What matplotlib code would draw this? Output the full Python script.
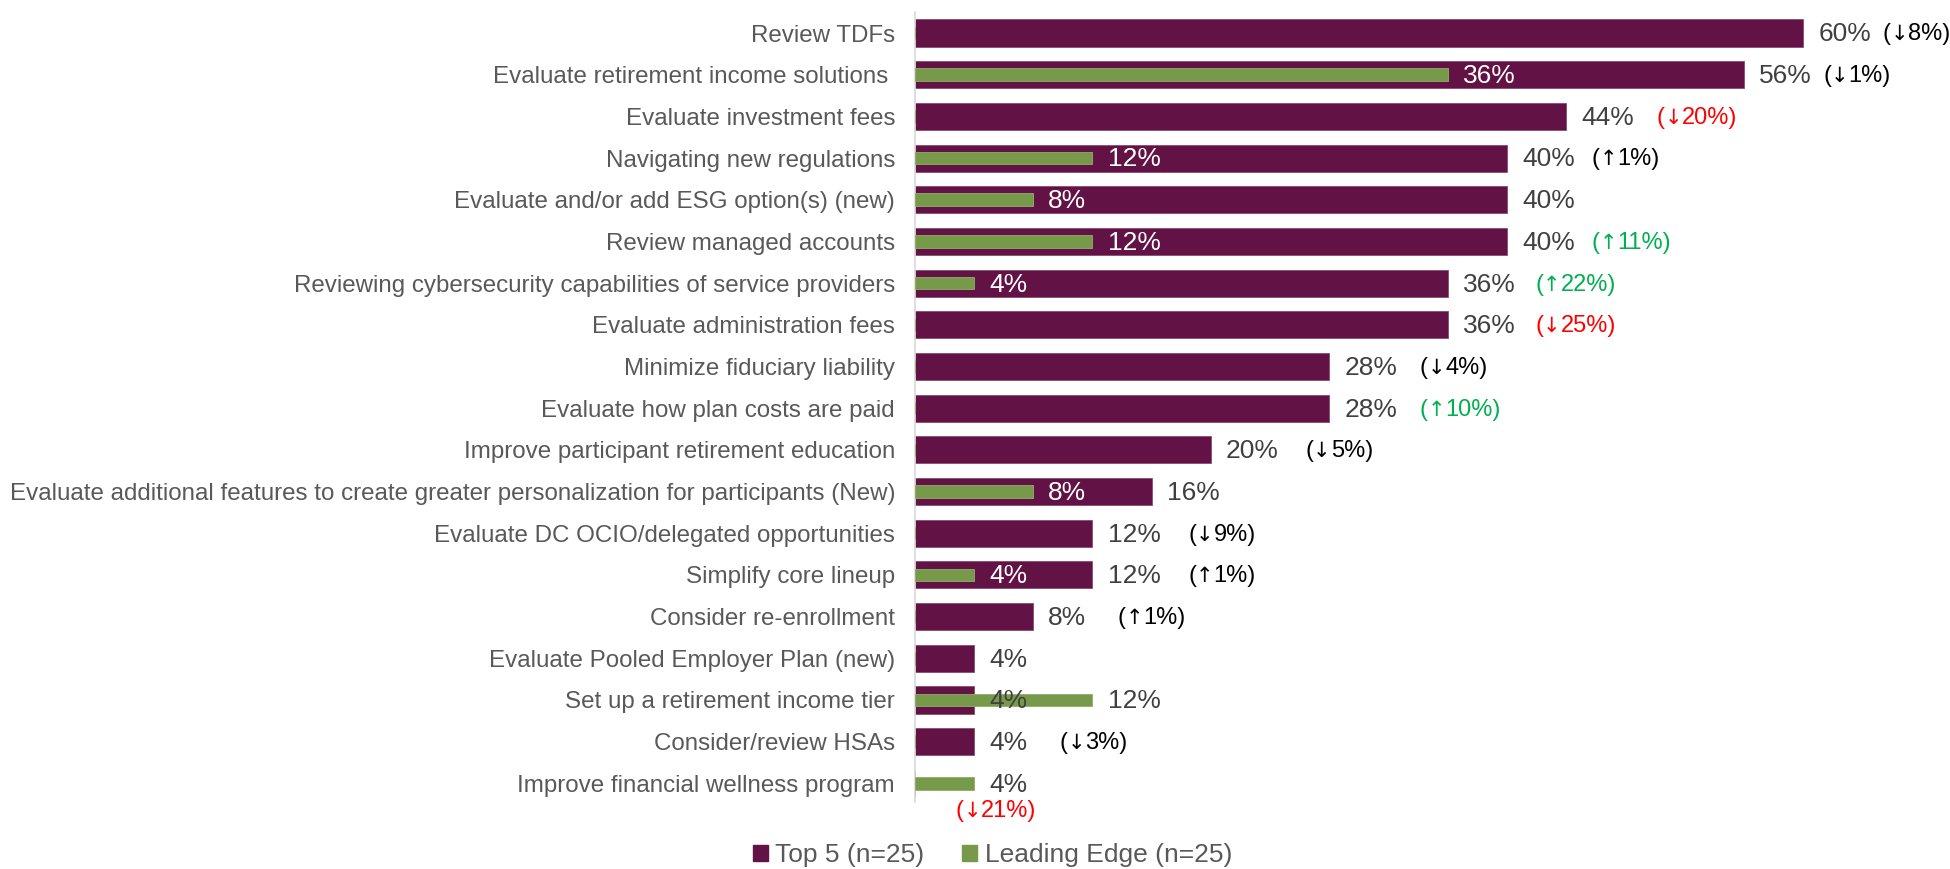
import numpy as np
import matplotlib
matplotlib.use("Agg")
import matplotlib.pyplot as plt
from matplotlib.offsetbox import TextArea, HPacker, AnnotationBbox

plt.rcParams["font.family"] = ["Liberation Sans", "DejaVu Sans"]

categories = [
    "Review TDFs",
    "Evaluate retirement income solutions ",
    "Evaluate investment fees",
    "Navigating new regulations",
    "Evaluate and/or add ESG option(s) (new)",
    "Review managed accounts",
    "Reviewing cybersecurity capabilities of service providers",
    "Evaluate administration fees",
    "Minimize fiduciary liability",
    "Evaluate how plan costs are paid",
    "Improve participant retirement education",
    "Evaluate additional features to create greater personalization for participants (New)",
    "Evaluate DC OCIO/delegated opportunities",
    "Simplify core lineup",
    "Consider re-enrollment",
    "Evaluate Pooled Employer Plan (new)",
    "Set up a retirement income tier",
    "Consider/review HSAs",
    "Improve financial wellness program",
]
top5 = [60, 56, 44, 40, 40, 40, 36, 36, 28, 28, 20, 16, 12, 12, 8, 4, 4, 4, None]
leading = [None, 36, None, 12, 8, 12, 4, None, None, None, None, 8, None, 4, None, None, 12, None, 4]
# year-over-year change for the Top 5 group (percentage points)
change = [-8, -1, -20, 1, None, 11, 22, -25, -4, 10, -5, None, -9, 1, 1, None, None, -3, -21]

PURPLE = "#621244"
GREEN = "#779A4A"
GREY = "#595959"
VAL_GREY = "#404040"

fig = plt.figure(figsize=(19.5, 8.69), dpi=100)
ax = fig.add_axes([0.469, 0.077, 0.521, 0.909])

y = np.arange(len(categories))
t_vals = np.array([v if v is not None else 0 for v in top5])
l_vals = np.array([v if v is not None else 0 for v in leading])

ax.barh(y, t_vals, height=0.65, color=PURPLE, edgecolor="#8a4a72", linewidth=0.6, zorder=2)
ax.barh(y, l_vals, height=0.3, color=GREEN, edgecolor="#8fae6a", linewidth=0.6, zorder=3)

ax.set_xlim(0, 68.6)
ax.set_ylim(len(categories) - 0.55, -0.5)
ax.set_yticks(y)
ax.set_yticklabels(categories, fontsize=17.4, color=GREY)
ax.tick_params(axis="y", length=0, pad=14)
ax.set_xticks([])
for s in ["top", "right", "bottom"]:
    ax.spines[s].set_visible(False)
ax.spines["left"].set_color("#D9D9D9")
ax.spines["left"].set_linewidth(1.2)

val_fs = 19
chg_fs = 17

# Top 5 value labels
for i, v in enumerate(top5):
    if v is None:
        continue
    ax.annotate(f"{v}%", (v, i), xytext=(11, -1), textcoords="offset points",
                va="center", ha="left", fontsize=val_fs, color=VAL_GREY, zorder=5)

# Leading edge labels: white when sitting on a purple bar
for i, v in enumerate(leading):
    if v is None:
        continue
    inside = top5[i] is not None and top5[i] > v + 4
    ax.annotate(f"{v}%", (v, i), xytext=(11, -1), textcoords="offset points",
                va="center", ha="left", fontsize=val_fs,
                color="white" if inside else VAL_GREY, zorder=5)


def change_box(c, col):
    # taller DejaVu arrow between the Liberation Sans parts
    arrow = "\u2193" if c < 0 else "\u2191"
    parts = [
        TextArea("(", textprops=dict(fontsize=chg_fs, color=col)),
        TextArea(arrow, textprops=dict(fontsize=chg_fs - 2, color=col, family="DejaVu Sans")),
        TextArea(f"{abs(c)}%)", textprops=dict(fontsize=chg_fs, color=col)),
    ]
    return HPacker(children=parts, align="baseline", pad=0, sep=0)


# change labels (gap from bar end, in points)
chg_gap = [57, 57, 65, 61, 0, 61, 63, 63, 65, 65, 68, 0, 69, 69, 61, 0, 0, 62, 0]
for i, c in enumerate(change):
    if c is None:
        continue
    col = "black"
    if abs(c) >= 10:
        col = "#FF0000" if c < 0 else "#00B050"
    box = change_box(c, col)
    if top5[i] is None:
        ab = AnnotationBbox(box, (leading[i], i), xybox=(16, -20), xycoords="data",
                            boxcoords="offset points", box_alignment=(0.5, 0.5),
                            frameon=False, pad=0, zorder=5)
    else:
        ab = AnnotationBbox(box, (top5[i], i), xybox=(chg_gap[i], -1), xycoords="data",
                            boxcoords="offset points", box_alignment=(0, 0.5),
                            frameon=False, pad=0, zorder=5)
    ax.add_artist(ab)

handles = [plt.Rectangle((0, 0), 1, 1, color=PURPLE), plt.Rectangle((0, 0), 1, 1, color=GREEN)]
leg = fig.legend(handles, ["Top 5 (n=25)", "Leading Edge (n=25)"], loc="center",
                 bbox_to_anchor=(0.509, 0.016), ncol=2, frameon=False, fontsize=19,
                 handlelength=0.57, handleheight=0.57, handletextpad=0.27,
                 columnspacing=1.44, borderpad=0)
for t in leg.get_texts():
    t.set_color(GREY)

fig.savefig("out.png", dpi=100, facecolor="white")
